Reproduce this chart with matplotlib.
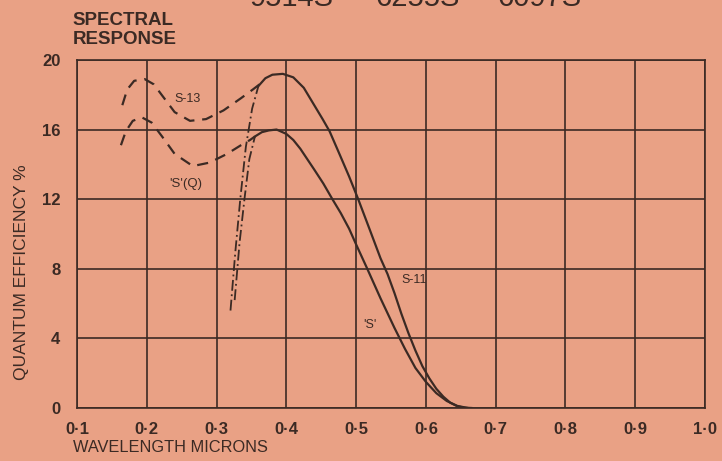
import matplotlib.pyplot as plt

bg = '#e9a185'
ink = '#3b2a24'

# S-11 (solid) and 'S' (solid)
s11_x = [0.360, 0.370, 0.380, 0.395, 0.410, 0.425, 0.440, 0.452, 0.462, 0.475, 0.490, 0.503, 0.520,
         0.535, 0.545, 0.555, 0.565, 0.575, 0.585, 0.595, 0.605, 0.615, 0.625, 0.635, 0.645, 0.655, 0.665]
s11_y = [18.5, 18.95, 19.15, 19.2, 19.0, 18.4, 17.4, 16.6, 15.9, 14.7, 13.3, 12.0, 10.2,
         8.6, 7.7, 6.6, 5.4, 4.3, 3.3, 2.4, 1.7, 1.1, 0.65, 0.3, 0.1, 0.02, 0.0]
s_x = [0.355, 0.365, 0.375, 0.386, 0.400, 0.410, 0.420, 0.430, 0.440, 0.453, 0.466, 0.478, 0.490,
       0.500, 0.516, 0.535, 0.555, 0.570, 0.585, 0.600, 0.615, 0.630, 0.645, 0.660]
s_y = [15.6, 15.85, 15.95, 16.0, 15.75, 15.4, 14.9, 14.3, 13.7, 12.9, 12.0, 11.2, 10.3,
       9.4, 8.0, 6.3, 4.6, 3.4, 2.3, 1.5, 0.85, 0.4, 0.12, 0.0]

# quartz window versions (dashed)
s13_x = [0.165, 0.172, 0.182, 0.197, 0.210, 0.225, 0.240, 0.262, 0.285, 0.310, 0.335, 0.352, 0.365]
s13_y = [17.4, 18.3, 18.8, 18.9, 18.6, 17.8, 17.0, 16.5, 16.6, 17.1, 17.8, 18.3, 18.7]
sq_x = [0.163, 0.170, 0.180, 0.193, 0.207, 0.222, 0.240, 0.266, 0.290, 0.315, 0.335, 0.348, 0.355]
sq_y = [15.1, 15.9, 16.5, 16.7, 16.4, 15.6, 14.6, 13.9, 14.1, 14.6, 15.1, 15.4, 15.6]

# glass cut-off (dash-dot)
cut1_x = [0.320, 0.327, 0.334, 0.342, 0.351, 0.360]
cut1_y = [5.6, 9.0, 12.0, 15.0, 17.2, 18.5]
cut2_x = [0.326, 0.333, 0.340, 0.347, 0.355]
cut2_y = [6.2, 9.5, 12.0, 14.3, 15.6]

xticks = [0.1, 0.2, 0.3, 0.4, 0.5, 0.6, 0.7, 0.8, 0.9, 1.0]
xlabels = ['0·1', '0·2', '0·3', '0·4', '0·5', '0·6', '0·7', '0·8', '0·9', '1·0']
yticks = [0, 4, 8, 12, 16, 20]

plt.rcParams['font.family'] = ['Liberation Sans', 'DejaVu Sans']

fig = plt.figure(figsize=(7.22, 4.61), dpi=100, facecolor=bg)
ax = fig.add_axes([0.1066, 0.115, 0.8699, 0.755])
ax.set_facecolor(bg)

ax.plot(s11_x, s11_y, color=ink, lw=1.6)
ax.plot(s_x, s_y, color=ink, lw=1.6)
ax.plot(s13_x, s13_y, color=ink, lw=1.6, dashes=(5, 3.5))
ax.plot(sq_x, sq_y, color=ink, lw=1.6, dashes=(5, 3.5))
ax.plot(cut1_x, cut1_y, color=ink, lw=1.3, dashes=(6, 2, 1, 2))
ax.plot(cut2_x, cut2_y, color=ink, lw=1.3, dashes=(6, 2, 1, 2))

ax.set_xlim(0.1, 1.0)
ax.set_ylim(0, 20)
ax.set_xticks(xticks)
ax.set_xticklabels(xlabels, fontweight='bold', fontsize=12)
ax.set_yticks(yticks)
ax.set_yticklabels([str(v) for v in yticks], fontweight='bold', fontsize=12)
ax.tick_params(axis='x', length=0, colors=ink, pad=10)
ax.tick_params(axis='y', length=0, colors=ink, pad=12)
ax.grid(True, color=ink, lw=1.2)
for sp in ax.spines.values():
    sp.set_color(ink)
    sp.set_linewidth(1.2)

ax.text(0.240, 17.6, 'S-13', fontsize=9, color=ink)
ax.text(0.232, 12.7, "'S'(Q)", fontsize=9.5, color=ink)
ax.text(0.565, 7.2, 'S-11', fontsize=9, color=ink)
ax.text(0.510, 4.6, "'S'", fontsize=9, color=ink)

fig.text(0.101, 0.012, 'WAVELENGTH MICRONS', fontsize=11.8, color=ink, va='bottom')
fig.text(0.030, 0.41, 'QUANTUM EFFICIENCY %', fontsize=12.5, color=ink, rotation=90, va='center', ha='center')
fig.text(0.101, 0.895, 'SPECTRAL\nRESPONSE', fontsize=13.5, fontweight='bold', color=ink, linespacing=1.2, va='bottom')

# tube numbers, partly cut off at the top edge as in the scan
for cx, txt in [(0.404, '9514S'), (0.579, '6255S'), (0.748, '6097S')]:
    fig.text(cx, 0.988, txt, fontsize=21, color=ink, ha='center', va='baseline')

fig.savefig('out.png', dpi=100, facecolor=bg)
